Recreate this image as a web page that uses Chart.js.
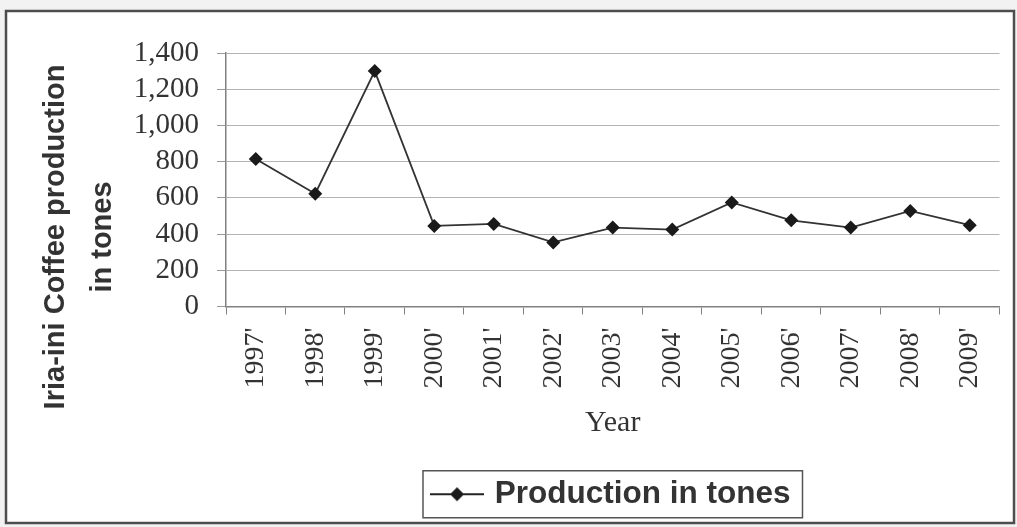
<!DOCTYPE html>
<html>
<head>
<meta charset="utf-8">
<script src="https://cdn.jsdelivr.net/npm/chart.js@4/dist/chart.umd.min.js"></script>
<style>
  html, body { margin: 0; padding: 0; background: #f2f2f2; }
  #wrap { position: absolute; left: 0; top: 0; width: 1017px; height: 527px; }
</style>
</head>
<body>
<div id="wrap"><canvas id="c" width="1017" height="527"></canvas></div>
<script>
// ---- data ----
const years = ["1997'", "1998'", "1999'", "2000'", "2001'", "2002'", "2003'", "2004'", "2005'", "2006'", "2007'", "2008'", "2009'"];
const production = [815, 623, 1300, 445, 456, 354, 436, 425, 575, 476, 436, 528, 449];
const seriesName = 'Production in tones';
const yTitleLines = ['Iria-ini Coffee production', 'in tones'];
const xTitle = 'Year';
const yMin = 0, yMax = 1400, yStep = 200;

const serif = '"Liberation Serif", "Times New Roman", serif';
const sans = '"Liberation Sans", Arial, sans-serif';
const textColor = '#333333';

// legend marker: line with diamond
const marker = document.createElement('canvas');
marker.width = 54; marker.height = 18;
(function () {
  const m = marker.getContext('2d');
  m.strokeStyle = '#222'; m.lineWidth = 2;
  m.beginPath(); m.moveTo(0, 9); m.lineTo(54, 9); m.stroke();
  m.fillStyle = '#1a1a1a';
  m.beginPath(); m.moveTo(27, 2); m.lineTo(34, 9); m.lineTo(27, 16); m.lineTo(20, 9); m.closePath(); m.fill();
})();

const framePlugin = {
  id: 'frame',
  beforeDraw(chart) {
    const ctx = chart.ctx;
    ctx.save();
    ctx.fillStyle = '#f2f2f2';
    ctx.fillRect(0, 0, chart.width, chart.height);
    ctx.fillStyle = '#ffffff';
    ctx.fillRect(6, 11, 1008, 512);
    ctx.strokeStyle = '#4d4d4d';
    ctx.lineWidth = 2.5;
    ctx.strokeRect(6, 11, 1008, 512);
    ctx.restore();
  },
  afterDraw(chart) {
    const ctx = chart.ctx;
    ctx.save();
    // y-axis title
    ctx.fillStyle = textColor;
    ctx.font = 'bold 29px ' + sans;
    ctx.textAlign = 'center';
    ctx.textBaseline = 'middle';
    const cy = 237;
    const xs = [56, 103];
    yTitleLines.forEach((t, i) => {
      ctx.save();
      ctx.translate(xs[i], cy);
      ctx.rotate(-Math.PI / 2);
      ctx.fillText(t, 0, 0);
      ctx.restore();
    });
    // legend border
    const lg = chart.legend;
    if (lg && lg.legendHitBoxes && lg.legendHitBoxes.length) {
      const hb = lg.legendHitBoxes[0];
      const midY = hb.top + hb.height / 2;
      ctx.strokeStyle = '#555';
      ctx.lineWidth = 1.5;
      ctx.strokeRect(hb.left - 12, midY - 23.5, hb.width + 24, 47);
    }
    ctx.restore();
  }
};

new Chart(document.getElementById('c'), {
  type: 'line',
  data: {
    labels: years,
    datasets: [{
      label: seriesName,
      data: production,
      borderColor: '#333333',
      borderWidth: 1.8,
      pointStyle: 'rectRot',
      pointRadius: 7,
      pointBackgroundColor: '#1a1a1a',
      pointBorderColor: '#1a1a1a',
      pointBorderWidth: 0,
      tension: 0,
      fill: false
    }]
  },
  options: {
    responsive: false,
    animation: false,
    devicePixelRatio: 1,
    layout: { padding: { top: 53, right: 17, bottom: 7, left: 0 } },
    plugins: {
      tooltip: { enabled: false },
      legend: {
        position: 'bottom',
        fullSize: false,
        labels: {
          usePointStyle: true,
          pointStyleWidth: 44,
          padding: 10,
          color: textColor,
          font: { family: sans, size: 31.5, weight: 'bold' },
          generateLabels(chart) {
            return chart.data.datasets.map((ds, i) => ({
              text: ds.label,
              pointStyle: marker,
              fillStyle: '#1a1a1a',
              strokeStyle: '#1a1a1a',
              lineWidth: 0,
              hidden: false,
              datasetIndex: i,
              fontColor: textColor
            }));
          }
        }
      }
    },
    scales: {
      x: {
        type: 'category',
        offset: true,
        afterFit(scale) { scale.height = 162; },
        grid: {
          offset: true,
          drawOnChartArea: false,
          drawTicks: true,
          tickLength: 8,
          color: '#808080',
          tickColor: '#808080'
        },
        border: { display: true, color: '#808080', width: 1.5 },
        ticks: {
          minRotation: 90,
          maxRotation: 90,
          autoSkip: false,
          padding: 13,
          color: textColor,
          font: { family: serif, size: 28 }
        },
        title: {
          display: true,
          text: xTitle,
          color: textColor,
          font: { family: serif, size: 30 },
          padding: { top: 4, bottom: 27 }
        }
      },
      y: {
        min: yMin,
        max: yMax,
        afterFit(scale) { scale.width = 226; },
        grid: {
          drawOnChartArea: true,
          drawTicks: true,
          tickLength: 9,
          color: '#b3b3b3',
          tickColor: '#9a9a9a'
        },
        border: { display: true, color: '#808080', width: 1.5 },
        ticks: {
          stepSize: yStep,
          autoSkip: false,
          padding: 18,
          color: textColor,
          font: { family: serif, size: 29 },
          callback: (v) => Number(v).toLocaleString('en-US')
        }
      }
    }
  },
  plugins: [framePlugin]
});
</script>
</body>
</html>
